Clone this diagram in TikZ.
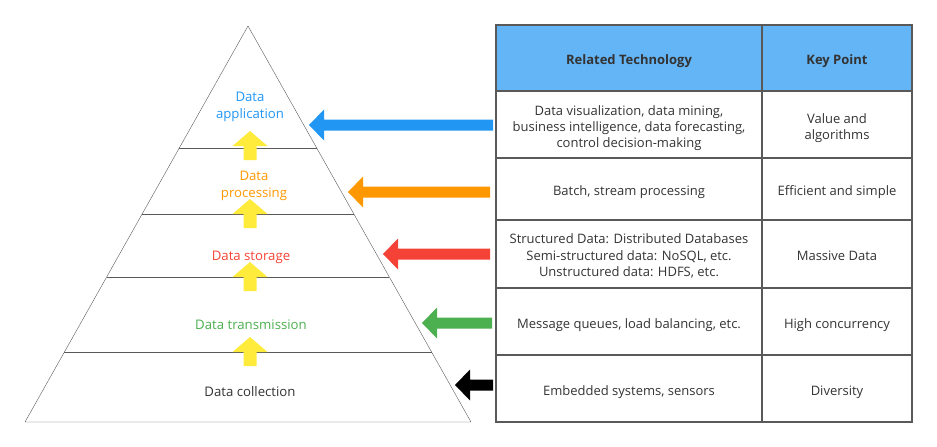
\documentclass[tikz,border=0pt]{standalone}
\usepackage{fontspec}
\setmainfont{Open Sans}
\definecolor{txtgray}{HTML}{333333}
\definecolor{linegray}{HTML}{595959}
\definecolor{headblue}{HTML}{64B5F6}
\definecolor{appblue}{HTML}{2196F3}
\definecolor{procorange}{HTML}{FF9800}
\definecolor{storred}{HTML}{F44336}
\definecolor{transgreen}{HTML}{4CAF50}
\definecolor{upyellow}{HTML}{FFEB3B}
\tikzset{
  layer/.style={font=\fontsize{13.2}{16.5}\selectfont, align=center, inner sep=0pt},
  cell/.style={draw=linegray, line width=1.2pt, inner sep=0pt},
  headcell/.style={cell, fill=headblue, minimum height=66pt},
  celltext/.style={font=\fontsize{13}{16.2}\selectfont, text=txtgray, align=center, inner sep=0pt},
  headtext/.style={celltext, font=\fontsize{13}{16.2}\selectfont\bfseries},
}
\begin{document}
\begin{tikzpicture}[x=1pt,y=-1pt]
		\useasboundingbox (0,0) rectangle (937,447);
		% pyramid
		\draw[linegray] (248,26) -- (471,422) -- (25,422) -- cycle;
		\foreach \y in {148, 214, 277, 352}{
			\draw[linegray] ({248-(\y-26)*0.5631},\y) -- ({248+(\y-26)*0.5631},\y);
		}
		\node[layer, text=appblue] (app) at (250,107) {Data\\application};
		\node[layer, text=procorange] (proc) at (254,186) {Data\\processing};
		\node[layer, text=storred] (stor) at (251,257) {Data storage};
		\node[layer, text=transgreen] (trans) at (251,325) {Data transmission};
		\node[layer, text=txtgray] (coll) at (250,392) {Data collection};
		% yellow arrows between layers
		\foreach \t in {131, 199, 262, 337}{
			\fill[upyellow] (250,\t) -- (267.5,\t+15) -- (256.5,\t+15) -- (256.5,\t+29)
				-- (243.5,\t+29) -- (243.5,\t+15) -- (232.5,\t+15) -- cycle;
		}
		% arrows from the table
		\foreach \c/\x/\y/\e in {appblue/309/125/493, procorange/348/192/490,
			storred/383/254/490, transgreen/422/323/492, black/455/385/493}{
			\fill[\c] (\x,\y) -- (\x+15,\y-15.5) -- (\x+15,\y-5.5) -- (\e,\y-5.5)
				-- (\e,\y+5.5) -- (\x+15,\y+5.5) -- (\x+15,\y+15.5) -- cycle;
		}
		% table cells
		\node[headcell, minimum width=266pt] (hdtech) at (629,58) {};
		\node[headcell, minimum width=150pt] (hdkey) at (837,58) {};
		\node[cell, minimum width=266pt, minimum height=67pt] (tech1) at (629,124.5) {};
		\node[cell, minimum width=150pt, minimum height=67pt] (key1) at (837,124.5) {};
		\node[cell, minimum width=266pt, minimum height=62pt] (tech2) at (629,189) {};
		\node[cell, minimum width=150pt, minimum height=62pt] (key2) at (837,189) {};
		\node[cell, minimum width=266pt, minimum height=68pt] (tech3) at (629,254) {};
		\node[cell, minimum width=150pt, minimum height=68pt] (key3) at (837,254) {};
		\node[cell, minimum width=266pt, minimum height=67pt] (tech4) at (629,321.5) {};
		\node[cell, minimum width=150pt, minimum height=67pt] (key4) at (837,321.5) {};
		\node[cell, minimum width=266pt, minimum height=67pt] (tech5) at (629,388.5) {};
		\node[cell, minimum width=150pt, minimum height=67pt] (key5) at (837,388.5) {};
		% table texts
		\node[headtext] (hdtechtxt) at ([yshift=-3.5pt]hdtech.center) {Related Technology};
		\node[headtext] (hdkeytxt) at ([yshift=-3.5pt]hdkey.center) {Key Point};
		\node[celltext] (tech1txt) at ([yshift=-3.5pt]tech1.center) {Data visualization, data mining,\\business intelligence, data forecasting,\\control decision-making};
		\node[celltext] (key1txt) at ([yshift=-3.5pt]key1.center) {Value and\\algorithms};
		\node[celltext] (tech2txt) at ([yshift=-3.5pt]tech2.center) {Batch, stream processing};
		\node[celltext] (key2txt) at ([yshift=-3.5pt]key2.center) {Efficient and simple};
		\node[celltext] (tech3txt) at ([yshift=-2pt]tech3.center) {Structured Data: Distributed Databases\\Semi-structured data: NoSQL, etc.\\Unstructured data: HDFS, etc.};
		\node[celltext] (key3txt) at ([yshift=-2pt]key3.center) {Massive Data};
		\node[celltext] (tech4txt) at ([yshift=-3.5pt]tech4.center) {Message queues, load balancing, etc.};
		\node[celltext] (key4txt) at ([yshift=-3.5pt]key4.center) {High concurrency};
		\node[celltext] (tech5txt) at ([yshift=-3.5pt]tech5.center) {Embedded systems, sensors};
		\node[celltext] (key5txt) at ([yshift=-3.5pt]key5.center) {Diversity};
\end{tikzpicture}
\end{document}
